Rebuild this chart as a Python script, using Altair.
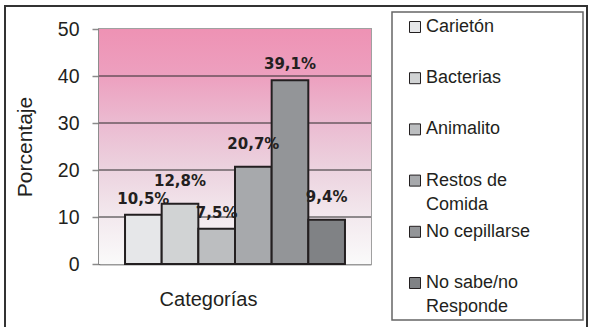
import altair as alt
import pandas as pd

# Survey answers: what causes cavities
categories = ["Carietón", "Bacterias", "Animalito", "Restos de\nComida",
              "No cepillarse", "No sabe/no\nResponde"]
percentages = [10.5, 12.8, 7.5, 20.7, 39.1, 9.4]
bar_colors = ["#e6e7e9", "#d1d3d4", "#bcbec0", "#a7a9ac", "#939598", "#808285"]
y_ticks = [0, 10, 20, 30, 40, 50]
grid_levels = [10, 20, 30, 40]

W, H = 272, 235
INK = "#231f20"

df = pd.DataFrame({"cat": categories, "pct": percentages})
grid_df = pd.DataFrame({"level": grid_levels})

y_scale = alt.Scale(domain=[0, 50], nice=False, zero=True)
x_scale = alt.Scale(domain=categories, paddingInner=0, paddingOuter=0.71)

# pink-to-white backdrop behind the bars
backdrop = alt.Chart(alt.Data(values=[{}])).mark_rect(
    color=alt.LinearGradient(
        gradient="linear",
        stops=[
            alt.GradientStop(color="#ee92b4", offset=0.0),
            alt.GradientStop(color="#eda0bf", offset=0.2),
            alt.GradientStop(color="#ebbbd1", offset=0.4),
            alt.GradientStop(color="#ecd3df", offset=0.6),
            alt.GradientStop(color="#f3e9ee", offset=0.8),
            alt.GradientStop(color="#fafafa", offset=1.0),
        ],
        x1=0, x2=0, y1=0, y2=1,
    )
).encode(
    x=alt.value(0), x2=alt.value("width"),
    y=alt.datum(50, scale=y_scale), y2=alt.datum(0),
)

grid = alt.Chart(grid_df).mark_rule(color="#2b2b2b", strokeWidth=1).encode(
    y=alt.Y("level:Q", scale=y_scale)
)

bars = alt.Chart(df).mark_bar(stroke=INK, strokeWidth=2, opacity=1).encode(
    x=alt.X("cat:N", scale=x_scale, sort=categories,
            axis=alt.Axis(title="Categorías", labels=False, ticks=False,
                          domainColor="#9a9a9a", domainWidth=2,
                          titleFont="Liberation Sans", titleFontSize=20,
                          titleFontWeight="normal", titleColor=INK,
                          titleX=109, titleY=35, titleAlign="center",
                          titleBaseline="middle")),
    y=alt.Y("pct:Q", scale=y_scale,
            axis=alt.Axis(title="Porcentaje", values=y_ticks, grid=False,
                          domainColor="#555555", domainWidth=1.5,
                          tickColor="#8a8a8a", tickSize=7, tickWidth=1.5,
                          labelFont="Liberation Sans", labelFontSize=19.5,
                          labelColor=INK, labelPadding=13,
                          titleFont="Liberation Sans", titleFontSize=21,
                          titleFontWeight="normal", titleColor=INK,
                          titleX=-74, titleY=H / 2, titleAngle=-90,
                          titleAlign="center", titleBaseline="middle")),
    color=alt.Color(
        "cat:N", sort=categories,
        scale=alt.Scale(domain=categories, range=bar_colors),
        legend=alt.Legend(
            title=None, orient="none", legendX=307, legendY=-11, padding=0,
            columns=1, gridAlign="all", rowPadding=9.2,
            symbolType="square", symbolSize=121,
            symbolStrokeColor=INK, symbolStrokeWidth=1, symbolOpacity=1,
            labelFont="Liberation Sans", labelFontSize=18, labelColor=INK,
            labelBaseline="middle", labelOffset=2, labelLimit=200,
            labelExpr="split(datum.label, '\\n')",
        ),
    ),
)

# percentage labels; every other one sits a little higher so that
# neighbouring labels do not run into each other
label_base = alt.Chart(df).transform_window(
    idx="row_number()"
).transform_calculate(
    txt="replace(format(datum.pct, '.1f'), '.', ',') + '%'"
)


def value_labels(parity, lift):
    return label_base.transform_filter(f"datum.idx % 2 == {parity}").mark_text(
        font="DejaVu Sans", fontWeight="bold", fontSize=15, color=INK,
        baseline="bottom", dy=-lift,
    ).encode(
        x=alt.X("cat:N", scale=x_scale, sort=categories),
        y=alt.Y("pct:Q", scale=y_scale),
        text="txt:N",
    )


labels_low = value_labels(1, 8)
labels_high = value_labels(0, 15)

# outer frame and the box around the legend
frame = alt.Chart(alt.Data(values=[{}])).mark_rect(
    fill=None, stroke="#333333", strokeWidth=2
).encode(x=alt.value(-94), x2=alt.value(488), y=alt.value(-23), y2=alt.value(320))

legend_box = alt.Chart(alt.Data(values=[{}])).mark_rect(
    fill=None, stroke="#666666", strokeWidth=1.5
).encode(x=alt.value(293), x2=alt.value(484), y=alt.value(-17), y2=alt.value(291))

chart = alt.layer(backdrop, grid, bars, labels_low, labels_high,
                  frame, legend_box).properties(
    width=W, height=H,
    autosize=alt.AutoSizeParams(type="none"),
    padding={"left": 99, "top": 29, "right": 219, "bottom": 63},
    background="white",
).configure(
    style={"guide-label": {"lineHeight": 24}}
).configure_view(stroke="#a0a0a0", strokeWidth=2)

chart.save("out.html", embed_options={"renderer": "svg", "actions": False})
